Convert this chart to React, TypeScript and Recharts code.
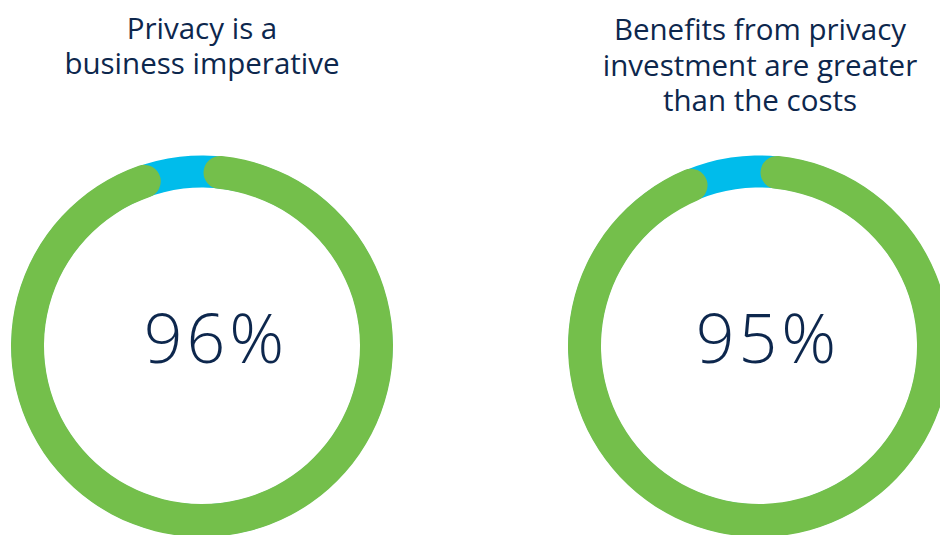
import React from 'react';
import { PieChart, Pie, Cell } from 'recharts';

const titleLeft = ['Privacy is a', 'business imperative'];
const titleRight = ['Benefits from privacy', 'investment are greater', 'than the costs'];
const leftData = [
  { name: 'Agree', value: 96 },
  { name: 'Other', value: 4 },
];
const rightData = [
  { name: 'Agree', value: 95 },
  { name: 'Other', value: 5 },
];
const leftLabel = '96%';
const rightLabel = '95%';

const GREEN = '#74bf4b';
const BLUE = '#00bceb';
const NAVY = '#0d274d';
const FONT = '"Open Sans", "Noto Sans", sans-serif';

const INNER = 158;
const OUTER = 191;
const CY = 346;
const START = 89.5;

export default function App() {
  const renderPies = (data: { name: string; value: number }[], cx: number, key: string) => [
    <Pie
      key={key + '-bg'}
      data={data}
      dataKey="value"
      cx={cx}
      cy={CY}
      innerRadius={INNER + 0.5}
      outerRadius={OUTER - 0.5}
      startAngle={START - 180}
      endAngle={START - 540}
      stroke="none"
      isAnimationActive={false}
    >
      {data.map((d, i) => (
        <Cell key={i} fill={BLUE} stroke="none" />
      ))}
    </Pie>,
    <Pie
      key={key + '-fg'}
      data={data}
      dataKey="value"
      cx={cx}
      cy={CY}
      innerRadius={INNER}
      outerRadius={OUTER}
      startAngle={START}
      endAngle={START - 360}
      cornerRadius={(OUTER - INNER) / 2}
      stroke="none"
      isAnimationActive={false}
    >
      {data.map((d, i) => (
        <Cell key={i} fill={i === 0 ? GREEN : 'none'} stroke="none" />
      ))}
    </Pie>,
  ];

  return (
    <div style={{ position: 'fixed', left: 0, top: 0, width: 940, height: 535, background: '#fff' }}>
      <PieChart width={940} height={535} margin={{ top: 0, right: 0, bottom: 0, left: 0 }}>
        {renderPies(leftData, 202, 'l')}
        {renderPies(rightData, 759, 'r')}
        <text x={202} y={0} fill={NAVY} fontFamily={FONT} fontSize={29.5} textAnchor="middle">
          {titleLeft.map((t, i) => (
            <tspan key={i} x={202} y={39 + i * 35}>
              {t}
            </tspan>
          ))}
        </text>
        <text x={760} y={0} fill={NAVY} fontFamily={FONT} fontSize={29.5} textAnchor="middle">
          {titleRight.map((t, i) => (
            <tspan key={i} x={760} y={40 + i * 35.5}>
              {t}
            </tspan>
          ))}
        </text>
        <text x={216} y={363} fill={NAVY} fontFamily={FONT} fontWeight={300} fontSize={68} letterSpacing={4} textAnchor="middle">
          {leftLabel}
        </text>
        <text x={768} y={363} fill={NAVY} fontFamily={FONT} fontWeight={300} fontSize={68} letterSpacing={4} textAnchor="middle">
          {rightLabel}
        </text>
      </PieChart>
    </div>
  );
}
